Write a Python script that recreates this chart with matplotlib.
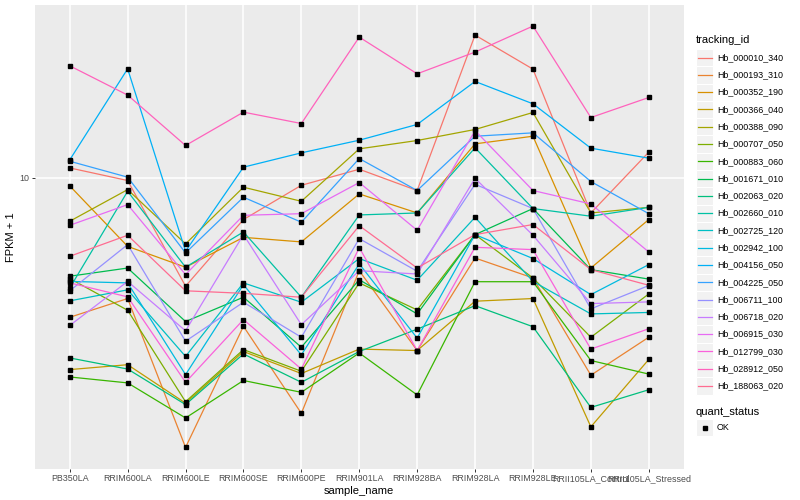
import numpy as np
import matplotlib
matplotlib.use('Agg')
import matplotlib.pyplot as plt
from matplotlib.lines import Line2D
from matplotlib.patches import Rectangle

plt.rcParams['font.family'] = ['Liberation Sans', 'DejaVu Sans']

samples = ['PB350LA', 'RRIM600LA', 'RRIM600LE', 'RRIM600SE', 'RRIM600PE',
           'RRIM901LA', 'RRIM928BA', 'RRIM928LA', 'RRIM928LE',
           'RRII105LA_Control', 'RRII105LA_Stressed']

tracking_ids = ['Hb_000010_340', 'Hb_000193_310', 'Hb_000352_190', 'Hb_000366_040',
                'Hb_000388_090', 'Hb_000707_050', 'Hb_000883_060', 'Hb_001671_010',
                'Hb_002063_020', 'Hb_002660_010', 'Hb_002725_120', 'Hb_002942_100',
                'Hb_004156_050', 'Hb_004225_050', 'Hb_006711_100', 'Hb_006718_020',
                'Hb_006915_030', 'Hb_012799_030', 'Hb_028912_050', 'Hb_188063_020']

# ggplot default hue palette for 20 levels
colours = ['#F8766D', '#EA8331', '#D89000', '#C09B00', '#A3A500', '#7CAE00',
           '#39B600', '#00BB4E', '#00BF7D', '#00C1A3', '#00BFC4', '#00BAE0',
           '#00B0F6', '#35A2FF', '#9590FF', '#C77CFF', '#E76BF3', '#FA62DB',
           '#FF62BC', '#FF6C91']

# FPKM + 1, one value per sample
hb_000010_340 = [10.74, 9.81, 4.59, 7.41, 9.48, 10.64, 9.13, 27.91, 21.85, 7.77, 12.03]
hb_000193_310 = [3.67, 4.20, 1.44, 3.44, 1.84, 5.13, 2.89, 5.62, 4.87, 2.42, 3.18]
hb_000352_190 = [9.44, 6.11, 5.26, 6.52, 6.31, 8.91, 7.77, 12.77, 13.49, 5.23, 7.41]
hb_000366_040 = [2.52, 2.61, 1.98, 2.87, 2.45, 2.92, 2.89, 4.12, 4.20, 1.67, 2.71]
hb_000388_090 = [7.32, 9.19, 6.22, 9.35, 8.45, 12.32, 13.08, 14.16, 16.00, 7.77, 8.09]
hb_000707_050 = [4.85, 3.86, 2.00, 2.91, 2.49, 4.70, 3.87, 6.65, 4.87, 3.18, 4.34]
hb_000883_060 = [2.39, 2.29, 1.78, 2.33, 2.14, 2.84, 2.10, 4.74, 4.74, 2.69, 2.44]
hb_001671_010 = [4.93, 5.23, 3.56, 4.24, 2.96, 4.81, 3.76, 6.65, 8.02, 5.17, 4.83]
hb_002063_020 = [2.74, 2.53, 1.96, 2.82, 2.30, 2.87, 3.37, 3.99, 3.43, 1.92, 2.18]
hb_002660_010 = [4.53, 9.08, 5.26, 6.78, 4.24, 7.66, 7.77, 12.41, 8.02, 7.59, 8.09]
hb_002725_120 = [4.13, 4.47, 2.77, 4.70, 4.09, 5.60, 4.79, 7.53, 4.75, 3.76, 3.80]
hb_002942_100 = [4.75, 4.70, 2.43, 4.64, 2.80, 5.39, 3.16, 6.65, 5.60, 4.32, 5.36]
hb_004156_050 = [11.38, 21.90, 5.90, 10.80, 11.97, 13.11, 14.68, 20.00, 17.03, 12.38, 11.52]
hb_004225_050 = [11.27, 10.05, 5.83, 8.70, 7.27, 11.49, 9.13, 13.49, 13.82, 9.74, 7.73]
hb_006711_100 = [4.44, 6.19, 3.09, 4.09, 3.18, 6.46, 5.11, 9.55, 8.02, 3.90, 4.61]
hb_006718_020 = [3.46, 4.75, 3.33, 6.65, 3.48, 5.13, 5.01, 9.97, 6.62, 4.05, 4.10]
hb_006915_030 = [7.11, 8.25, 4.99, 7.64, 7.73, 9.67, 6.86, 14.05, 9.13, 8.29, 5.87]
hb_012799_030 = [4.70, 4.25, 2.30, 3.61, 2.53, 6.06, 2.89, 6.07, 5.97, 2.92, 3.38]
hb_028912_050 = [22.38, 18.13, 12.62, 16.04, 14.78, 27.51, 21.13, 24.70, 29.78, 15.43, 17.82]
hb_188063_020 = [5.69, 6.62, 4.44, 4.36, 4.24, 7.09, 5.23, 6.65, 7.15, 5.17, 4.62]

series = [hb_000010_340, hb_000193_310, hb_000352_190, hb_000366_040, hb_000388_090,
          hb_000707_050, hb_000883_060, hb_001671_010, hb_002063_020, hb_002660_010,
          hb_002725_120, hb_002942_100, hb_004156_050, hb_004225_050, hb_006711_100,
          hb_006718_020, hb_006915_030, hb_012799_030, hb_028912_050, hb_188063_020]

W, H = 800, 500
fig = plt.figure(figsize=(8, 5), dpi=100)
ax = fig.add_axes([35 / W, 1 - 468.5 / H, (683.5 - 35) / W, (468.5 - 5) / H])
ax.set_facecolor('#EBEBEB')

x = np.arange(len(samples))
for vals, col in zip(series, colours):
    ax.plot(x, vals, color=col, lw=0.9, zorder=2)
for vals in series:
    ax.plot(x, vals, ls='none', marker='s', ms=2.5, color='black', zorder=3)

ax.set_yscale('log')
lo = np.log10(min(min(s) for s in series))
hi = np.log10(max(max(s) for s in series))
pad = (hi - lo) * 0.05
ax.set_ylim(10 ** (lo - pad), 10 ** (hi + pad))
ax.set_xlim(-0.6, len(samples) - 0.4)
ax.set_yticks([10])
ax.set_yticklabels(['10'])
ax.yaxis.set_minor_locator(matplotlib.ticker.NullLocator())
ax.set_xticks(x)
ax.set_xticklabels(samples)

ax.grid(True, color='white', lw=1.1, zorder=0)
ax.set_axisbelow(True)
for s in ax.spines.values():
    s.set_visible(False)
ax.tick_params(length=2.2, width=0.7, color='#333333', labelcolor='#4D4D4D',
               labelsize=6.4, pad=2)

ax.set_xlabel('sample_name', fontsize=8, labelpad=2)
ax.set_ylabel('FPKM + 1', fontsize=8, labelpad=2)


def fx(px):
    return px / W


def fy(py):
    return 1 - py / H


# legend: tracking_id
fig.text(fx(696), fy(40), 'tracking_id', fontsize=8, va='center', ha='left')
key = 17.28
top = 49
for i, (name, col) in enumerate(zip(tracking_ids, colours)):
    y0 = top + i * key
    fig.add_artist(Rectangle((fx(696), fy(y0 + key)), key / W, key / H,
                             transform=fig.transFigure, facecolor='#F2F2F2',
                             edgecolor='white', lw=0.8))
    yc = y0 + key / 2
    fig.add_artist(Line2D([fx(698), fx(712)], [fy(yc), fy(yc)],
                          transform=fig.transFigure, color=col, lw=0.9))
    fig.text(fx(717), fy(yc), name, fontsize=6.4, va='center', ha='left')

# legend: quant_status
fig.text(fx(696), fy(412), 'quant_status', fontsize=8, va='center', ha='left')
fig.add_artist(Rectangle((fx(696), fy(419 + key)), key / W, key / H,
                         transform=fig.transFigure, facecolor='#F2F2F2',
                         edgecolor='white', lw=0.8))
fig.add_artist(Line2D([fx(696 + key / 2)], [fy(419 + key / 2)],
                      transform=fig.transFigure, ls='none', marker='s',
                      ms=2.5, color='black'))
fig.text(fx(717), fy(419 + key / 2), 'OK', fontsize=6.4, va='center', ha='left')

fig.savefig('out.png', dpi=100, facecolor='white')
